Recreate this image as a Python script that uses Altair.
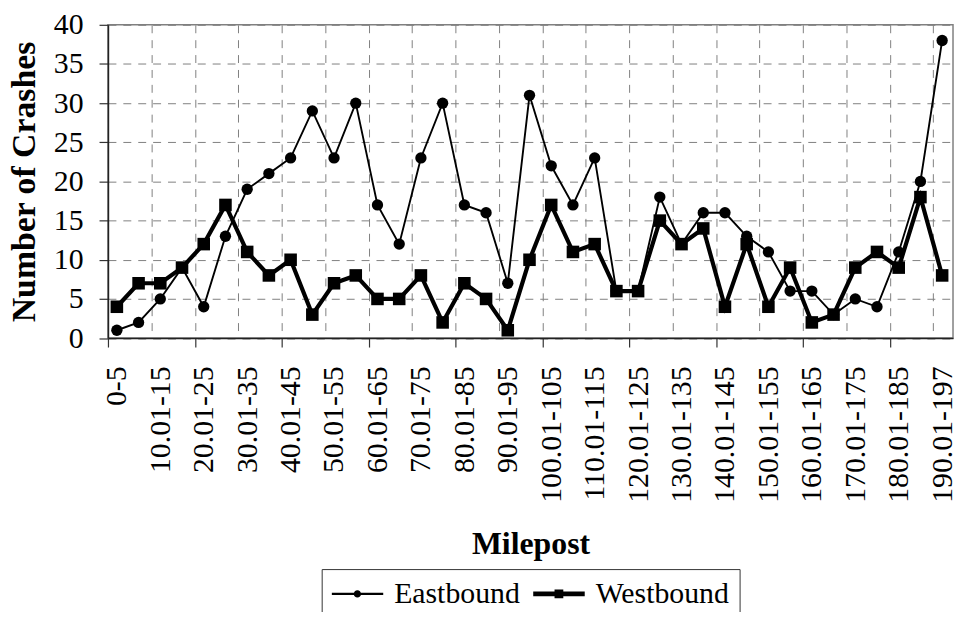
import altair as alt
import pandas as pd

# ---- data ----
mileposts = [
    "0-5", "5.01-10", "10.01-15", "15.01-20", "20.01-25", "25.01-30",
    "30.01-35", "35.01-40", "40.01-45", "45.01-50", "50.01-55", "55.01-60",
    "60.01-65", "65.01-70", "70.01-75", "75.01-80", "80.01-85", "85.01-90",
    "90.01-95", "95.01-100", "100.01-105", "105.01-110", "110.01-115",
    "115.01-120", "120.01-125", "125.01-130", "130.01-135", "135.01-140",
    "140.01-145", "145.01-150", "150.01-155", "155.01-160", "160.01-165",
    "165.01-170", "170.01-175", "175.01-180", "180.01-185", "185.01-190",
    "190.01-197",
]
eastbound = [1, 2, 5, 9, 4, 13, 19, 21, 23, 29, 23, 30, 17, 12, 23, 30, 17, 16,
             7, 31, 22, 17, 23, 6, 6, 18, 12, 16, 16, 13, 11, 6, 6, 3, 5, 4, 11,
             20, 38]
westbound = [4, 7, 7, 9, 12, 17, 11, 8, 10, 3, 7, 8, 5, 5, 8, 2, 7, 5, 1, 10,
             17, 11, 12, 6, 6, 15, 12, 14, 4, 12, 4, 9, 2, 3, 9, 11, 9, 18, 8]
series_names = ["Eastbound", "Westbound"]
y_ticks = [0, 5, 10, 15, 20, 25, 30, 35, 40]

rows = []
for i, lab in enumerate(mileposts):
    rows.append({"idx": i, "milepost": lab, "dir": "Eastbound", "crashes": eastbound[i]})
    rows.append({"idx": i, "milepost": lab, "dir": "Westbound", "crashes": westbound[i]})
df = pd.DataFrame(rows)

# ---- axis layout ----
FONT = "Liberation Serif, Times New Roman, Times, DejaVu Serif, serif"
X_MIN, X_MAX = -0.41, 38.5
grid_pos = [round(X_MIN + 2 * k, 2) for k in range(20)]
label_pos = list(range(0, len(mileposts), 2))
label_array = "[" + ",".join("'" + s + "'" for s in mileposts) + "]"
is_label = "abs(datum.value - round(datum.value)) < 0.05"
label_expr = f"{is_label} ? {label_array}[round(datum.value)] : ''"

x_enc = alt.X(
    "idx:Q",
    scale=alt.Scale(domain=[X_MIN, X_MAX], nice=False, zero=False),
    axis=alt.Axis(
        values=label_pos + grid_pos,
        labelExpr=label_expr,
        labelAngle=270,
        labelFont=FONT, labelFontSize=30, labelColor="black",
        labelOverlap=False, labelBound=False, labelFlush=False,
        labelPadding=19,
        tickSize=9, tickColor="#333", tickWidth=1.2,
        tickOpacity={"condition": {"test": f"!({is_label}) && round(datum.value + 0.41) % 4 == 0",
                                   "value": 1}, "value": 0},
        grid=True, gridColor="#808080", gridDash=[8, 7], gridWidth=1,
        gridOpacity={"condition": {"test": f"!({is_label})", "value": 1}, "value": 0},
        domainColor="#222", domainWidth=1.5,
        title="Milepost", titleFont=FONT, titleFontSize=32, titleFontWeight="bold",
        titleColor="black", titleY=216.7, titleBaseline="alphabetic",
    ),
)
y_enc = alt.Y(
    "crashes:Q",
    scale=alt.Scale(domain=[0, 40], nice=False),
    axis=alt.Axis(
        values=y_ticks,
        labelFont=FONT, labelFontSize=30, labelColor="black", labelPadding=16,
        tickSize=9, tickColor="#333", tickWidth=1.2,
        grid=True, gridColor="#808080", gridDash=[8, 7], gridWidth=1,
        domainColor="#222", domainWidth=1.5,
        title="Number of Crashes", titleFont=FONT, titleFontSize=34,
        titleFontWeight="bold", titleColor="black",
        titleX=-84, titleBaseline="middle",
    ),
)

PATH_E = ("M-1,-0.04H1V0.04H-1Z"
          "M0.14,0A0.14,0.14,0,1,1,-0.14,0A0.14,0.14,0,1,1,0.14,0Z")
PATH_W = "M-1,-0.09H1V0.09H-1ZM-0.17,-0.17H0.17V0.17H-0.17Z"

base = alt.Chart(df).encode(x=x_enc, y=y_enc)
east = base.transform_filter(alt.datum.dir == "Eastbound")
west = base.transform_filter(alt.datum.dir == "Westbound")

line_e = east.mark_line(color="black", strokeWidth=1.9)
pts_e = east.mark_point(filled=True, shape="circle", size=130, color="black", opacity=1)
line_w = west.mark_line(color="black", strokeWidth=4.2)
pts_w = west.mark_point(filled=True, shape="square", size=160, color="black", opacity=1)

legend_layer = base.transform_filter("false").mark_point(
    filled=True, color="black", opacity=1
).encode(
    shape=alt.Shape(
        "dir:N",
        scale=alt.Scale(domain=series_names, range=[PATH_E, PATH_W]),
        legend=alt.Legend(
            title=None, orient="none", legendX=215.3, legendY=548.3,
            direction="horizontal", columns=2,
            strokeColor="#333", fillColor="white", padding=10,
            labelFont=FONT, labelFontSize=30, labelColor="black",
            labelOffset=11, columnPadding=13, labelLimit=400,
            symbolSize=2704, symbolStrokeWidth=0, symbolFillColor="black",
            symbolOpacity=1, clipHeight=30,
        ),
    )
)

chart = alt.layer(line_e, pts_e, line_w, pts_w, legend_layer).properties(
    width=851.3,
    height=315.6,
    autosize=alt.AutoSizeParams(type="none"),
    padding={"left": 100.7, "top": 14.7, "right": 1, "bottom": 273.7},
    background="white",
).configure_view(stroke="#808080", strokeWidth=1.5)

chart.save("out.html", embed_options={"renderer": "svg", "actions": False})
